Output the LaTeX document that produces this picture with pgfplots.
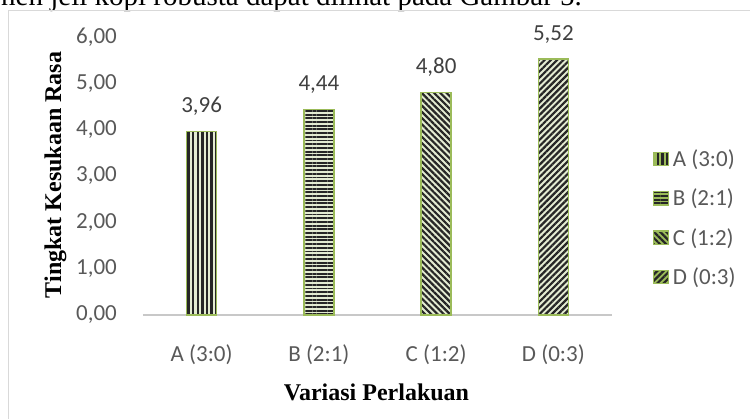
\documentclass[border=0pt]{standalone}
\usepackage{pgfplots}
\pgfplotsset{compat=1.18}
\usepackage{fontspec}
\setmainfont{Carlito}
\newfontfamily\tnr{Liberation Serif}
\usetikzlibrary{patterns.meta}
\definecolor{barg}{HTML}{9BBB59}
\definecolor{barbg}{HTML}{E4ECD2}
\definecolor{pat}{HTML}{262626}
\definecolor{legpat}{HTML}{4A5A2A}
\definecolor{tickgray}{HTML}{595959}
\definecolor{lblgray}{HTML}{404040}
\definecolor{axisgray}{HTML}{C8C8C8}
\definecolor{framegray}{HTML}{D9D9D9}
\begin{document}
\begin{tikzpicture}
\useasboundingbox (0,0) rectangle (750pt,418pt);
\clip (0,0) rectangle (750pt,418pt);
\node[anchor=base west, inner sep=0pt, font=\tnr\fontsize{29}{30}\selectfont] at (1pt,412.5pt) {nen jeli kopi robusta dapat dilihat pada Gambar 5.};
\draw[framegray, line width=1pt] (8.5pt,407.5pt) rectangle (770pt,-20pt);
\begin{axis}[
  at={(143pt,103pt)}, anchor=south west,
  scale only axis, width=469pt, height=278pt,
  xmin=-0.5, xmax=3.5, ymin=0, ymax=6,
  ybar, bar width=30pt,
  axis x line=bottom, axis y line=left,
  x axis line style={draw=axisgray, line width=2.5pt, -},
  y axis line style={draw=none},
  major tick length=0pt,
  xtick={0,1,2,3},
  xticklabels={A (3:0),B (2:1),C (1:2),D (0:3)},
  ytick={0,1,2,3,4,5,6},
  tick label style={font=\fontsize{23}{27}\selectfont, text=tickgray},
  x tick label style={anchor=base, inner sep=0pt, yshift=-46pt},
  y tick label style={anchor=east, inner sep=0pt, xshift=-26pt},
  nodes near coords,
  every node near coord/.append style={font=\fontsize{23}{27}\selectfont, text=lblgray, anchor=base, inner sep=0pt, yshift=19pt},
  legend style={draw=none, fill=none, at={(1.087,0.349)}, anchor=west, inner sep=0pt, row sep=16pt,
    font=\fontsize{23}{27}\selectfont, text=tickgray, nodes={inner xsep=4pt, inner ysep=2.5pt}},
  legend cell align=left,
  legend image code/.code={\draw[#1, preaction={fill=barg}, pattern color=legpat, line width=0.8pt] (0pt,-6.5pt) rectangle (15pt,6.5pt);},
  /pgf/number format/.cd, use comma, fixed, fixed zerofill, precision=2, assume math mode=true,
]
\addplot[bar shift=0pt, draw=barg, line width=1.5pt, preaction={fill=barbg},
  pattern={Lines[angle=90,distance=4.6pt,line width=2.3pt]}, pattern color=pat]
  coordinates {(0,3.96)};
\addplot[bar shift=0pt, draw=barg, line width=1.5pt, preaction={fill=barbg},
  pattern={Lines[angle=0,distance=3.7pt,line width=1.9pt]}, pattern color=pat]
  coordinates {(1,4.44)};
\addplot[bar shift=0pt, draw=barg, line width=1.5pt, preaction={fill=barbg},
  pattern={Lines[angle=-45,distance=4.4pt,line width=2.2pt]}, pattern color=pat]
  coordinates {(2,4.80)};
\addplot[bar shift=0pt, draw=barg, line width=1.5pt, preaction={fill=barbg},
  pattern={Lines[angle=45,distance=4.4pt,line width=2.2pt]}, pattern color=pat]
  coordinates {(3,5.52)};
\legend{A (3:0),B (2:1),C (1:2),D (0:3)}
\end{axis}
\node[anchor=base, inner sep=0pt, font=\tnr\bfseries\fontsize{24}{26}\selectfont] at (376.5pt,18pt) {Variasi Perlakuan};
\node[anchor=base, rotate=90, inner sep=0pt, font=\tnr\bfseries\fontsize{24}{26}\selectfont] at (61pt,243pt) {Tingkat Kesukaan Rasa};
\end{tikzpicture}
\end{document}
